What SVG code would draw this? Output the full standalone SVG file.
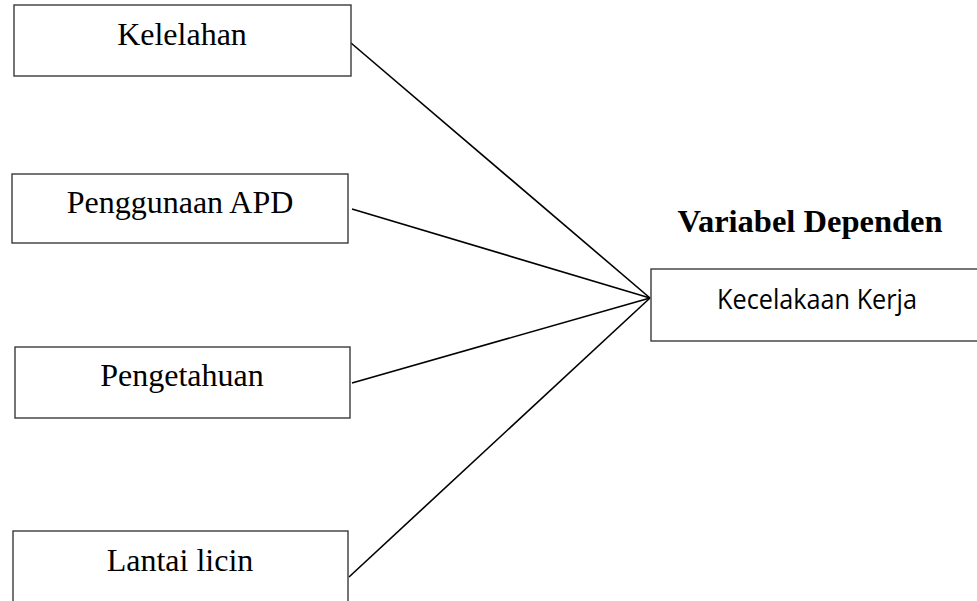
<svg xmlns="http://www.w3.org/2000/svg" width="977" height="601" viewBox="0 0 977 601">
<style>
.box{fill:#fff;stroke:#3a3a3a;stroke-width:1.4}
.t{font-family:"Liberation Serif","Times New Roman",serif;font-size:32px;fill:#000;text-anchor:middle}
.b{font-weight:bold;font-size:32.5px}
.s{font-family:"Open Sans","Noto Sans",sans-serif;font-size:27px;fill:#000}
.c{stroke:#000;stroke-width:1.6;fill:none}
</style>
<rect width="977" height="601" fill="#fff"/>
<g id="connectors">
<line class="c" x1="351" y1="43" x2="650" y2="298"/>
<line class="c" x1="352" y1="209" x2="650" y2="298"/>
<line class="c" x1="352" y1="383" x2="650" y2="298"/>
<line class="c" x1="349" y1="577" x2="650" y2="298"/>
</g>
<g id="kelelahan">
<rect class="box" x="14" y="5" width="337" height="71"/>
<text class="t" x="182" y="45">Kelelahan</text>
</g>
<g id="penggunaan-apd">
<rect class="box" x="12" y="174" width="336" height="69"/>
<text class="t" x="180" y="213">Penggunaan APD</text>
</g>
<g id="pengetahuan">
<rect class="box" x="15" y="347" width="335" height="71"/>
<text class="t" x="182" y="386">Pengetahuan</text>
</g>
<g id="lantai-licin">
<rect class="box" x="13" y="531" width="335" height="80"/>
<text class="t" x="180" y="571">Lantai licin</text>
</g>
<g id="variabel-dependen-label">
<text class="t b" x="810" y="232">Variabel Dependen</text>
</g>
<g id="kecelakaan-kerja">
<rect class="box" x="651" y="269" width="340" height="72"/>
<text class="s" x="717" y="309" textLength="200" lengthAdjust="spacingAndGlyphs">Kecelakaan Kerja</text>
</g>
</svg>
